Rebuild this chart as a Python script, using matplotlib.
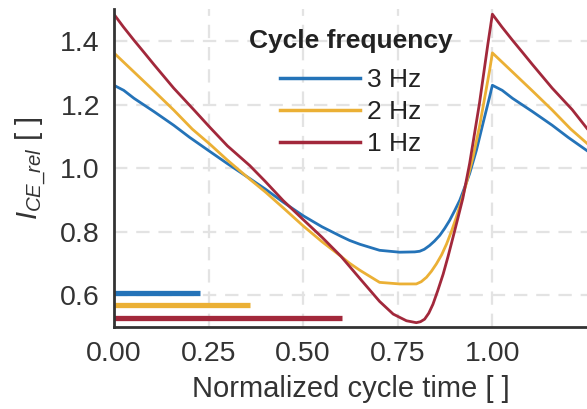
import matplotlib
matplotlib.use("Agg")
import matplotlib.pyplot as plt

# values (one cycle plus the start of the next)
t_3hz = [0.0, 0.026, 0.053, 0.106, 0.158, 0.2, 0.254, 0.3, 0.359, 0.4, 0.447,
         0.5, 0.55, 0.6, 0.623, 0.65, 0.702, 0.755, 0.795, 0.808, 0.82, 0.834,
         0.847, 0.861, 0.874, 0.887, 0.9, 0.914, 0.927, 0.94, 0.958, 0.975,
         0.993, 1.0,
         1.026, 1.053, 1.106, 1.158, 1.2, 1.25]
i_3hz = [1.261, 1.245, 1.220, 1.178, 1.135, 1.097, 1.052, 1.014, 0.967, 0.934,
         0.893, 0.850, 0.815, 0.785, 0.772, 0.760, 0.741, 0.735, 0.736, 0.738,
         0.744, 0.756, 0.770, 0.788, 0.81, 0.835, 0.865, 0.899, 0.94, 0.983,
         1.057, 1.14, 1.226, 1.261,
         1.245, 1.220, 1.178, 1.135, 1.097, 1.055]

t_2hz = [0.0, 0.053, 0.106, 0.158, 0.207, 0.254, 0.3, 0.359, 0.4, 0.45, 0.5,
         0.55, 0.6, 0.623, 0.65, 0.702, 0.755, 0.799, 0.812, 0.826, 0.839,
         0.852, 0.866, 0.879, 0.892, 0.905, 0.918, 0.931, 0.949, 0.966, 0.993,
         1.0,
         1.053, 1.106, 1.158, 1.207, 1.25]
i_2hz = [1.363, 1.303, 1.243, 1.183, 1.123, 1.075, 1.025, 0.965, 0.925, 0.872,
         0.818, 0.768, 0.722, 0.700, 0.678, 0.640, 0.635, 0.635, 0.642, 0.656,
         0.675, 0.698, 0.727, 0.761, 0.801, 0.846, 0.896, 0.951, 1.036, 1.131,
         1.31, 1.363,
         1.303, 1.243, 1.183, 1.123, 1.078]

t_1hz = [0.0, 0.025, 0.053, 0.08, 0.106, 0.158, 0.211, 0.254, 0.3, 0.359, 0.4,
         0.447, 0.5, 0.55, 0.6, 0.65, 0.702, 0.738, 0.773, 0.799, 0.81, 0.821,
         0.832, 0.843, 0.856, 0.87, 0.883, 0.896, 0.909, 0.922, 0.94, 0.953,
         0.966, 0.988, 1.0,
         1.025, 1.053, 1.08, 1.106, 1.158, 1.211, 1.25]
i_1hz = [1.485, 1.445, 1.403, 1.364, 1.326, 1.252, 1.184, 1.128, 1.070, 1.008,
         0.958, 0.898, 0.838, 0.782, 0.722, 0.652, 0.580, 0.540, 0.519, 0.513,
         0.516, 0.524, 0.543, 0.571, 0.615, 0.666, 0.722, 0.782, 0.843, 0.905,
         1.015, 1.11, 1.205, 1.39, 1.485,
         1.445, 1.403, 1.364, 1.326, 1.252, 1.184, 1.125]

labels = ["3 Hz", "2 Hz", "1 Hz"]
colors = ["#2473b8", "#ebb035", "#a2283b"]
# horizontal bars near the bottom: level and where each bar ends
bar_y = [0.608, 0.568, 0.527]
bar_end = [0.227, 0.36, 0.603]

plt.rcParams['font.family'] = ['Liberation Sans', 'DejaVu Sans']
plt.rcParams['mathtext.fontset'] = 'custom'
plt.rcParams['mathtext.it'] = 'Liberation Sans:italic'
plt.rcParams['mathtext.rm'] = 'Liberation Sans'

fig = plt.figure(figsize=(5.87, 4.09), dpi=100)
ax = fig.add_axes([0.194, 0.201, 0.806, 0.776])

series = [(t_3hz, i_3hz), (t_2hz, i_2hz), (t_1hz, i_1hz)]
for (x, y), c in zip(series, colors):
    ax.plot(x, y, color=c, lw=2.0)
for i in range(3):
    ax.plot([0, bar_end[i]], [bar_y[i], bar_y[i]], color=colors[i], lw=3.8,
            solid_capstyle='butt')

ax.set_xlim(0, 1.25)
ax.set_ylim(0.5, 1.5)
ax.set_xticks([0, 0.25, 0.5, 0.75, 1.0])
ax.set_xticklabels(["0.00", "0.25", "0.50", "0.75", "1.00"])
ax.set_yticks([0.6, 0.8, 1.0, 1.2, 1.4])
ax.set_yticklabels(["0.6", "0.8", "1.0", "1.2", "1.4"])
ax.tick_params(length=0, labelsize=20.5, colors="#333333", pad=10)
ax.grid(True, color="#e3e3e3", lw=1.6, linestyle=(0, (6, 4)))
ax.set_axisbelow(True)
for s in ["top", "right"]:
    ax.spines[s].set_visible(False)
for s in ["left", "bottom"]:
    ax.spines[s].set_color("#333333")
    ax.spines[s].set_linewidth(2)

ax.set_xlabel("Normalized cycle time [ ]", fontsize=21, color="#333333", labelpad=6)
ax.set_ylabel(r"$I_{CE\_rel}$ [ ]", fontsize=21, color="#333333", labelpad=8)

# legend title drawn as text, entries as a frameless legend below it
ax.text(0.5, 0.878, "Cycle frequency", transform=ax.transAxes, ha="center",
        va="baseline", fontsize=19, fontweight="bold", color="#222222")
handles = [plt.Line2D([], [], color=c, lw=2.5) for c in colors]
leg = ax.legend(handles, labels, loc="center", bbox_to_anchor=(0.5, 0.677),
                frameon=False, fontsize=19, handlelength=3.05, handletextpad=0.25,
                labelspacing=0.3, borderpad=0)
for txt in leg.get_texts():
    txt.set_color("#222222")

fig.savefig("out.png", dpi=100)
